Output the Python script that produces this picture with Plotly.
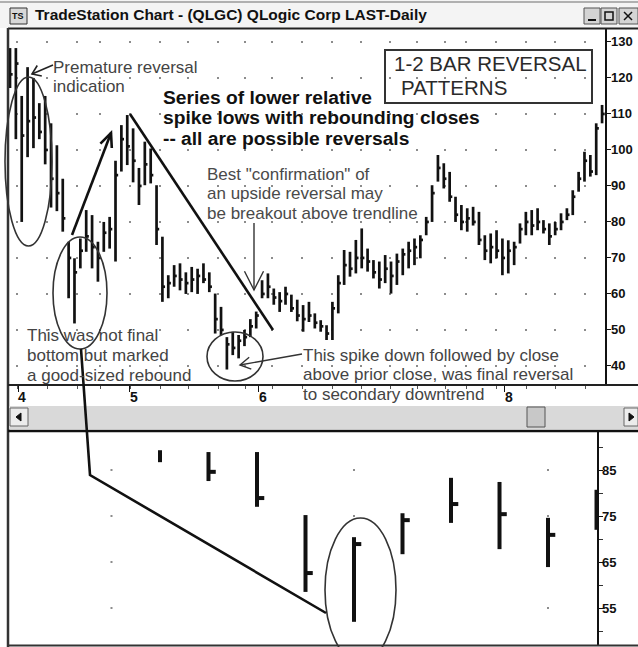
import math
import plotly.graph_objects as go

W, H = 638, 647

# ---------------- data (upper daily chart, HLC bars) ----------------
upper_high = [128.3, 128.3, 115.0, 123.0, 120.0, 113.0, 115.0, 107.4, 101.3, 92.0,
              74.5, 69.9, 75.4, 83.3, 81.9, 74.5, 80.0, 81.4, 97.0, 106.9,
              109.7, 106.0, 95.0, 102.3, 100.4, 90.2, 75.9, 65.2, 68.0, 68.5,
              66.0, 67.5, 67.0, 68.5, 66.0, 60.1, 56.4, 48.0, 49.5, 48.6,
              50.0, 53.0, 55.1, 63.8, 65.7, 61.5, 60.5, 62.0, 59.8, 58.4,
              56.9, 57.8, 54.6, 52.7, 51.3, 57.8, 65.2, 72.2, 71.7, 75.0,
              78.2, 72.6, 69.4, 69.0, 70.8, 69.0, 71.2, 72.6, 74.5, 75.4,
              76.3, 81.4, 90.2, 98.6, 96.3, 93.9, 87.0, 84.7, 83.8, 84.2,
              82.8, 76.3, 76.8, 77.7, 75.4, 74.9, 74.5, 79.6, 82.8, 83.3,
              83.8, 80.5, 79.6, 80.0, 82.4, 83.8, 88.8, 93.9, 99.5, 98.6,
              107.4, 112.5]
upper_low = [117.2, 103.0, 80.0, 98.0, 100.5, 103.0, 96.0, 84.0, 83.0, 77.3,
             58.8, 51.8, 67.1, 71.7, 67.1, 63.4, 71.7, 72.6, 69.0, 94.0,
             95.8, 91.0, 84.7, 90.2, 90.7, 73.6, 57.8, 58.8, 62.0, 61.0,
             60.0, 60.5, 60.0, 63.0, 60.5, 49.0, 48.6, 39.0, 43.0, 42.1,
             45.5, 48.0, 50.4, 58.8, 58.8, 57.0, 55.0, 57.0, 55.0, 52.4,
             49.5, 52.2, 50.4, 49.5, 47.2, 47.2, 54.6, 62.5, 64.8, 65.7,
             67.1, 66.2, 64.3, 61.5, 63.0, 60.1, 62.5, 65.2, 67.1, 68.0,
             69.9, 76.3, 80.0, 91.2, 89.3, 85.6, 80.0, 77.7, 77.3, 79.0,
             73.6, 69.4, 68.5, 69.9, 65.2, 65.7, 68.0, 74.0, 76.3, 76.3,
             77.7, 76.8, 73.6, 76.3, 77.7, 80.5, 81.9, 88.4, 91.2, 92.6,
             93.0, 107.4]
upper_close = [121, 124, 104, 108, 109, 105, 100, 92, 88, 81,
               70, 66, 72, 76, 73, 70, 77, 78, 93, 103,
               101, 97, 90, 96, 93, 78, 62, 63, 65, 64,
               63, 64, 65, 64, 62, 53, 50, 46, 45, 47,
               48, 51, 54, 60, 62, 59, 58, 60, 56, 54,
               53, 54, 52, 51, 49, 56, 63, 68, 67, 70,
               70, 69, 66, 64, 67, 65, 69, 71, 72, 73,
               75, 80, 88, 95, 92, 87, 82, 80, 81, 80,
               75, 72, 73, 72, 70, 72, 73, 78, 80, 79,
               80, 78, 76, 78, 80, 82, 87, 92, 97, 94,
               106, 110]

month_labels = ["4", "5", "6", "8"]
month_start_bar = [1, 20, 42, 84]
upper_price_ticks = [40, 50, 60, 70, 80, 90, 100, 110, 120, 130]

# ---------------- data (lower zoomed panel, HLC bars) ----------------
lower_high = [89.3, 88.9, 88.9, 75.2, 70.4, 75.6, 83.3, 82.4, 74.6, 80.7]
lower_low = [86.7, 82.6, 77.0, 58.5, 52.0, 66.7, 73.5, 67.8, 63.9, 72.0]
lower_close = [None, 84.6, 78.9, 62.6, 68.9, 74.1, 77.6, 75.4, 70.9, 76.0]
lower_price_ticks = [55, 65, 75, 85]
lower_minor_ticks = [50, 60, 70, 80, 90]

# ---------------- geometry helpers ----------------
UX0, UX1, UY0, UY1 = 9, 605, 29, 385
UR = [-0.17, 101.5]
UYR = [34.7, 133.6]
LX0, LX1, LY0, LY1 = 9, 597, 432, 645
LR = [-3.113, 9.01]
LYR = [46.96, 93.26]


def px(x):
    return x / W


def py(y):
    return 1 - y / H


def ux_to_idx(x):
    return UR[0] + (x - UX0) / (UX1 - UX0) * (UR[1] - UR[0])


def pth(points, closed=False):
    s = "M " + " L ".join(f"{x / W:.5f},{1 - y / H:.5f}" for x, y in points)
    return s + (" Z" if closed else "")


def vhead(tip, tail, length, ang):
    tx, ty = tip
    dx, dy = tail[0] - tx, tail[1] - ty
    n = math.hypot(dx, dy)
    dx, dy = dx / n, dy / n
    pts = []
    for s in (1, -1):
        a = math.radians(ang) * s
        rx = dx * math.cos(a) - dy * math.sin(a)
        ry = dx * math.sin(a) + dy * math.cos(a)
        pts.append((tx + length * rx, ty + length * ry))
    return [pts[0], tip, pts[1]]


def hlc_xy(high, low, close, tick, start=0):
    xs, ys = [], []
    for k, (h, l, c) in enumerate(zip(high, low, close)):
        i = start + k
        xs += [i, i, None]
        ys += [l, h, None]
        if c is not None:
            xs += [i, i + tick, None]
            ys += [c, c, None]
    return xs, ys


fig = go.Figure()

# grid dots (upper)
grid_cols_px = [17, 47, 77, 100, 130, 160, 188, 218, 245, 272, 302, 332, 361, 390,
                417, 445, 466, 496, 526, 555, 585]
gx, gy = [], []
for v in upper_price_ticks:
    for c in grid_cols_px:
        gx.append(ux_to_idx(c))
        gy.append(v)
fig.add_trace(go.Scatter(x=gx, y=gy, mode="markers", xaxis="x", yaxis="y",
                         marker=dict(symbol="square", size=2, color="#8c8c8c"),
                         hoverinfo="skip"))

# upper bars
ux, uy = hlc_xy(upper_high, upper_low, upper_close, 0.45)
fig.add_trace(go.Scatter(x=ux, y=uy, mode="lines", xaxis="x", yaxis="y",
                         line=dict(color="#111111", width=2.7), hoverinfo="skip"))

# lower grid dots
lgx, lgy = [], []
for v in lower_price_ticks:
    for c in [-1, 4, 8]:
        lgx.append(c)
        lgy.append(v)
fig.add_trace(go.Scatter(x=lgx, y=lgy, mode="markers", xaxis="x2", yaxis="y2",
                         marker=dict(symbol="square", size=2, color="#8c8c8c"),
                         hoverinfo="skip"))

# lower bars
lx, ly = hlc_xy(lower_high, lower_low, lower_close, 0.15)
fig.add_trace(go.Scatter(x=lx, y=ly, mode="lines", xaxis="x2", yaxis="y2",
                         line=dict(color="#111111", width=4), hoverinfo="skip"))

FONT = "Liberation Sans, Arial, sans-serif"

shapes = []


def line_shape(points, color="#111111", width=2.5, closed=False, fill=None):
    d = dict(type="path", path=pth(points, closed), xref="paper", yref="paper",
             line=dict(color=color, width=width), layer="above")
    if fill:
        d["fillcolor"] = fill
    shapes.append(d)


def rect(x0, y0, x1, y1, fill=None, color="#555", width=1):
    d = dict(type="rect", xref="paper", yref="paper", x0=px(x0), x1=px(x1),
             y0=py(y1), y1=py(y0), line=dict(color=color, width=width), layer="above")
    d["fillcolor"] = fill if fill else "rgba(0,0,0,0)"
    if width == 0:
        d["line"] = dict(width=0)
    shapes.append(d)


def ellipse(x0, y0, x1, y1, color="#333333", width=1.6):
    shapes.append(dict(type="circle", xref="paper", yref="paper", x0=px(x0), x1=px(x1),
                       y0=py(y1), y1=py(y0), line=dict(color=color, width=width),
                       layer="above"))


# window chrome
rect(0, 0, 638, 28, fill="#f4f4f4", width=0)
line_shape([(0, 2), (638, 2)], color="#9a9a9a", width=1.5)
line_shape([(8, 28.5), (638, 28.5)], color="#222222", width=2)
line_shape([(8, 28), (8, 647)], color="#333333", width=2.5)
# title icon
rect(10, 8, 27, 24, fill="#d8d8d8", color="#333", width=1)
# window buttons
rect(584, 8, 600, 24, fill="#d4d4d4", color="#555", width=1)
rect(601, 8, 617, 24, fill="#d4d4d4", color="#555", width=1)
rect(619, 8, 638, 24, fill="#d4d4d4", color="#555", width=1)
line_shape([(588, 20), (596, 20)], color="#111", width=2)
rect(605, 12, 613, 20, color="#111", width=1.5)
line_shape([(624, 12), (632, 20)], color="#111", width=1.5)
line_shape([(632, 12), (624, 20)], color="#111", width=1.5)

# bottom of upper panel full width
line_shape([(8, 385), (638, 385)], color="#222222", width=2)
# scrollbar
rect(9, 406, 638, 429, fill="#d9d9d9", width=0)
rect(10, 408, 28, 426, fill="#ececec", color="#666", width=1)
line_shape([(21, 413), (16, 417), (21, 421)], color="#111", width=1, closed=True, fill="#111")
rect(624, 408, 638, 426, fill="#ececec", color="#666", width=1)
line_shape([(629, 413), (634, 417), (629, 421)], color="#111", width=1, closed=True, fill="#111")
rect(527, 407, 545, 427, fill="#c8c8c8", color="#555", width=1)
# lower panel frame
line_shape([(8, 431), (638, 431)], color="#111111", width=2.5)
line_shape([(8, 645.5), (638, 645.5)], color="#333333", width=2)

# drawn annotations
ellipse(5, 77, 52, 246)
ellipse(53, 237, 107, 349)
ellipse(207, 332, 263, 381)
ellipse(325, 518, 396, 662)
rect(385, 50, 592, 103, color="#333333", width=2)

# up arrow
tip, tail = (111, 133), (72, 235)
line_shape([tail, tip], width=2.6)
line_shape(vhead(tip, tail, 15, 24), width=2.6)
# trendline
line_shape([(130, 114), (273, 330)], width=2.6)
# connector to lower panel
line_shape([(81, 349), (90, 475), (326, 613)], width=2.6)
# premature arrow
tip, tail = (32, 74), (53, 65)
line_shape([tail, tip], color="#222", width=1.6)
line_shape(vhead(tip, tail, 10, 35), color="#222", width=1.6)
# confirmation arrow
tip, tail = (254, 290), (254, 223)
line_shape([tail, tip], color="#333", width=1.4)
line_shape(vhead(tip, tail, 21, 27), color="#333", width=1.4)
# spike arrow
tip, tail = (240, 365), (302, 354)
line_shape([tail, tip], color="#333", width=1.4)
line_shape(vhead(tip, tail, 12, 30), color="#333", width=1.4)

annotations = []


def text_lines(lines, x, y0, dy, size, color, weight="normal"):
    for k, t in enumerate(lines):
        annotations.append(dict(text=t, x=px(x), y=py(y0 + k * dy), xref="paper", yref="paper",
                                xanchor="left", yanchor="middle", showarrow=False,
                                borderpad=0,
                                font=dict(family=FONT, size=size, color=color, weight=weight)))


text_lines(["TradeStation Chart - (QLGC) QLogic Corp LAST-Daily"], 34, 15, 0, 15.5, "#111111", "bold")
text_lines(["TS"], 11, 16, 0, 9, "#111111", "bold")
text_lines(["Premature reversal", "indication"], 52, 67, 19, 17, "#444444")
text_lines(["Series of lower relative", "spike lows with rebounding closes",
            "-- all are possible reversals"], 162, 97, 20.5, 19.2, "#111111", "bold")
text_lines(["1-2 BAR REVERSAL"], 393, 63, 0, 20.5, "#2a2a2a")
text_lines(["PATTERNS"], 400, 87, 0, 20.5, "#2a2a2a")
text_lines(['Best "confirmation" of', "an upside reversal may",
            "be breakout above trendline"], 206, 174, 19.5, 17, "#4a4a4a")
text_lines(["This was not final", "bottom but marked", "a good-sized rebound"],
           26, 335, 20, 17, "#444444")
text_lines(["This spike down followed by close", "above prior close, was final reversal",
            "to secondary downtrend"], 302, 355, 19.5, 17, "#444444")

axis_font = dict(family=FONT, size=13, color="#111111", weight="bold")

# price axis labels (placed on the axes' own y scales)
for v in upper_price_ticks:
    annotations.append(dict(text=str(v), x=px(610), y=v, xref="paper", yref="y",
                            xanchor="left", yanchor="middle", showarrow=False, borderpad=0,
                            font=axis_font))
for v in lower_price_ticks:
    annotations.append(dict(text=str(v), x=px(601), y=v, xref="paper", yref="y2",
                            xanchor="left", yanchor="middle", showarrow=False, borderpad=0,
                            font=axis_font))
# month labels on the bar scale
for lab, b in zip(month_labels, month_start_bar):
    annotations.append(dict(text=lab, x=b + 0.4, y=py(397), xref="x", yref="paper",
                            xanchor="center", yanchor="middle", xshift=4, showarrow=False,
                            borderpad=0,
                            font=dict(family=FONT, size=14, color="#111111", weight="bold")))

fig.update_layout(
    width=W, height=H, margin=dict(l=0, r=0, t=0, b=0),
    paper_bgcolor="white", plot_bgcolor="rgba(0,0,0,0)", showlegend=False,
    xaxis=dict(domain=[px(UX0), px(UX1)], range=UR, anchor="y", showgrid=False, zeroline=False,
               showline=False, tickmode="array",
               tickvals=[b + 0.4 for b in month_start_bar], showticklabels=False,
               ticks="outside", ticklen=6, tickcolor="#111111", tickwidth=1,
               minor=dict(tickmode="array", tickvals=[ux_to_idx(c) for c in grid_cols_px],
                          ticks="outside", ticklen=3, tickcolor="#555555"),
               fixedrange=True),
    yaxis=dict(domain=[py(UY1), py(UY0)], range=UYR, anchor="x", side="right",
               showgrid=False, zeroline=False, showline=True, linecolor="#111111", linewidth=2,
               ticks="outside", ticklen=4, tickcolor="#111111", tickvals=upper_price_ticks,
               showticklabels=False, fixedrange=True),
    xaxis2=dict(domain=[px(LX0), px(LX1)], range=LR, anchor="y2", visible=False, fixedrange=True),
    yaxis2=dict(domain=[py(LY1), py(LY0)], range=LYR, anchor="x2", side="right",
                showgrid=False, zeroline=False, showline=True, linecolor="#111111", linewidth=2,
                ticks="outside", ticklen=4, tickcolor="#111111", tickvals=lower_price_ticks,
                showticklabels=False,
                minor=dict(tickmode="array", tickvals=lower_minor_ticks, ticks="outside",
                           ticklen=4, tickcolor="#333333"),
                fixedrange=True),
    shapes=shapes, annotations=annotations,
)

fig.write_html("out.html", config={"displayModeBar": False},
               post_script="document.body.style.margin='0';"
                           "document.body.style.overflow='hidden';"
                           "window.scrollTo(0,0);")
